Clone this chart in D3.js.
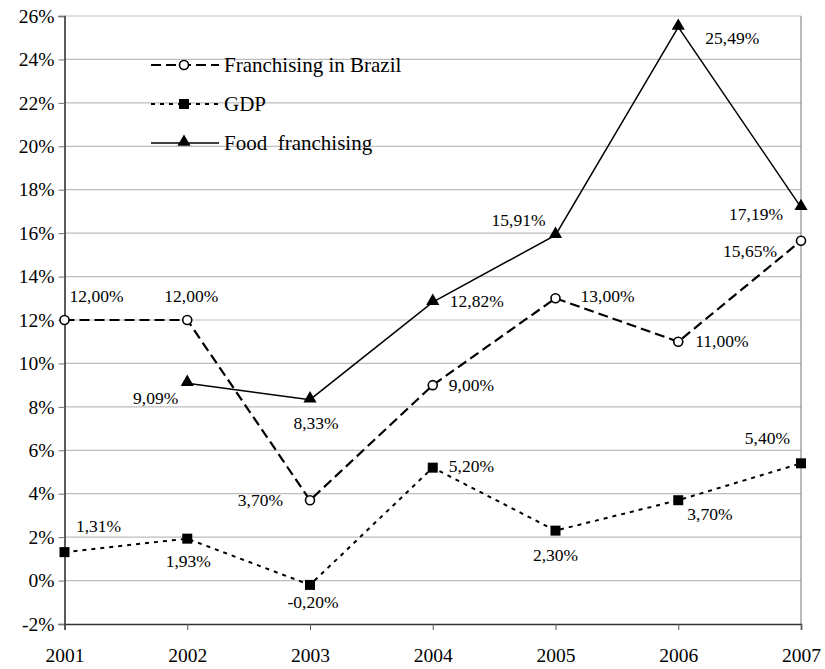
<!DOCTYPE html>
<html>
<head>
<meta charset="utf-8">
<script src="https://cdn.jsdelivr.net/npm/d3@7"></script>
<style>
  html, body { margin: 0; padding: 0; background: #fff; }
  svg { display: block; }
  svg text { font-family: "Liberation Serif", "Times New Roman", serif !important; }
</style>
</head>
<body>
<svg id="chart" width="825" height="669"></svg>
<script>
// Growth rates, 2001–2007
const years = [2001, 2002, 2003, 2004, 2005, 2006, 2007];
const franchising = [12.00, 12.00, 3.70, 9.00, 13.00, 11.00, 15.65];
const gdp = [1.31, 1.93, -0.20, 5.20, 2.30, 3.70, 5.40];
const food = [null, 9.09, 8.33, 12.82, 15.91, 25.49, 17.19];
const yTicks = [-2, 0, 2, 4, 6, 8, 10, 12, 14, 16, 18, 20, 22, 24, 26];
const seriesNames = ["Franchising in Brazil", "GDP", "Food  franchising"];

// label placement per point: [dx, dy, anchor]
const franLabelPos = [[32, -24, "middle"], [4, -24, "middle"], [-27, 0, "end"], [16, 0, "start"], [25, -2, "start"], [17, -1, "start"], [-24, 10, "end"]];
const gdpLabelPos = [[34, -26, "middle"], [1, 22, "middle"], [3, 17, "middle"], [16, -2, "start"], [0, 24, "middle"], [9, 14, "start"], [-11, -25, "end"]];
const foodLabelPos = [null, [-9, 15, "end"], [6, 23, "middle"], [17, -1, "start"], [-10, -15, "end"], [27, 11, "start"], [-18, 7, "end"]];

const fmt = v => d3.format(".2f")(v).replace(".", ",").replace("\u2212", "-") + "%";

const svg = d3.select("#chart");
const plotLeft = 64.5, plotRight = 801, plotTop = 16, plotBottom = 624;

const x = d3.scalePoint().domain(years).range([plotLeft, plotRight]);
const y = d3.scaleLinear().domain([-2, 26]).range([plotBottom, plotTop]);

// horizontal gridlines
svg.append("g")
  .selectAll("line")
  .data(yTicks.filter(t => t !== -2))
  .join("line")
  .attr("x1", plotLeft).attr("x2", plotRight)
  .attr("y1", d => y(d)).attr("y2", d => y(d))
  .attr("stroke", "#bdbdbd").attr("stroke-width", 1.2);

// right frame edge
svg.append("line")
  .attr("x1", plotRight).attr("x2", plotRight).attr("y1", plotTop).attr("y2", plotBottom)
  .attr("stroke", "#777").attr("stroke-width", 1);

// y axis
const yAxis = svg.append("g")
  .attr("transform", `translate(${plotLeft},0)`)
  .call(d3.axisLeft(y).tickValues(yTicks).tickSize(6).tickPadding(4).tickFormat(d => d + "%"));
yAxis.select(".domain").attr("stroke", "#333").attr("stroke-width", 1.6);
yAxis.selectAll(".tick line").attr("stroke", "#777");
yAxis.selectAll("text").attr("font-size", 19.5).attr("fill", "#000");

// x axis
const xAxis = svg.append("g")
  .attr("transform", `translate(0,${plotBottom})`)
  .call(d3.axisBottom(x).tickSize(6).tickPadding(18));
xAxis.select(".domain").attr("stroke", "#333").attr("stroke-width", 1.6);
xAxis.selectAll(".tick line").attr("stroke", "#555");
xAxis.selectAll("text").attr("font-size", 19.5).attr("fill", "#000");

// lines
const line = d3.line()
  .defined(d => d.v !== null)
  .x(d => x(d.year)).y(d => y(d.v));
const toPts = arr => arr.map((v, i) => ({ year: years[i], v }));

svg.append("path").datum(toPts(gdp)).attr("d", line)
  .attr("fill", "none").attr("stroke", "#000").attr("stroke-width", 2)
  .attr("stroke-dasharray", "4,5");
svg.append("path").datum(toPts(franchising)).attr("d", line)
  .attr("fill", "none").attr("stroke", "#000").attr("stroke-width", 2.2)
  .attr("stroke-dasharray", "10,5");
svg.append("path").datum(toPts(food)).attr("d", line)
  .attr("fill", "none").attr("stroke", "#000").attr("stroke-width", 1.5);

// markers
const tri = d3.symbol().type(d3.symbolTriangle).size(75);
function drawCircle(g, cx, cy) {
  g.append("circle").attr("cx", cx).attr("cy", cy).attr("r", 4.5)
    .attr("fill", "#fff").attr("stroke", "#000").attr("stroke-width", 1.6);
}
function drawSquare(g, cx, cy) {
  g.append("rect").attr("x", cx - 5).attr("y", cy - 5).attr("width", 10).attr("height", 10)
    .attr("fill", "#000");
}
function drawTriangle(g, cx, cy) {
  g.append("path").attr("d", tri()).attr("transform", `translate(${cx},${cy - 1})`)
    .attr("fill", "#000");
}

const marks = svg.append("g");
toPts(franchising).forEach(d => drawCircle(marks, x(d.year), y(d.v)));
toPts(gdp).forEach(d => drawSquare(marks, x(d.year), y(d.v)));
toPts(food).filter(d => d.v !== null).forEach(d => drawTriangle(marks, x(d.year), y(d.v)));

// value labels
const labels = svg.append("g").attr("font-size", 17.5).attr("fill", "#000");
function addLabels(arr, pos) {
  arr.forEach((v, i) => {
    if (v === null) return;
    const [dx, dy, anchor] = pos[i];
    labels.append("text")
      .attr("x", x(years[i]) + dx)
      .attr("y", y(v) + dy)
      .attr("dy", "0.35em")
      .attr("text-anchor", anchor)
      .text(fmt(v));
  });
}
addLabels(franchising, franLabelPos);
addLabels(gdp, gdpLabelPos);
addLabels(food, foodLabelPos);

// legend
const legend = svg.append("g").attr("font-size", 21);
const legendRows = [
  { name: seriesNames[0], dash: "10,5", w: 2.2, mark: drawCircle },
  { name: seriesNames[1], dash: "4,5", w: 2, mark: drawSquare },
  { name: seriesNames[2], dash: null, w: 1.5, mark: drawTriangle }
];
legendRows.forEach((r, i) => {
  const ly = 65 + i * 39;
  const ln = legend.append("line")
    .attr("x1", 151).attr("x2", 219).attr("y1", ly).attr("y2", ly)
    .attr("stroke", "#000").attr("stroke-width", r.w);
  if (r.dash) ln.attr("stroke-dasharray", r.dash);
  r.mark(legend, 184, ly);
  legend.append("text").attr("x", 224).attr("y", ly).attr("dy", "0.35em")
    .attr("xml:space", "preserve").style("white-space", "pre")
    .text(r.name);
});
</script>
</body>
</html>
